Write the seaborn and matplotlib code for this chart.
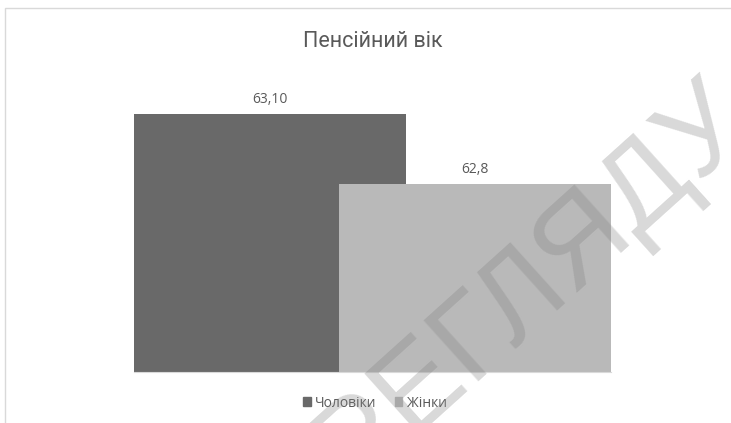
import matplotlib
matplotlib.use("Agg")
import matplotlib.pyplot as plt
import matplotlib.patches as mpatches
import seaborn as sns
import pandas as pd

# === data ===
series = ["Чоловіки", "Жінки"]
values = [63.10, 62.8]
value_labels = ["63,10", "62,8"]
colors = ["#696969", "#b9b9b9"]
title = "Пенсійний вік"
watermark = "ПЕРЕГЛЯДУ"

sns.set_theme(style="white")
plt.rcParams["font.family"] = ["Open Sans", "DejaVu Sans"]

df = pd.DataFrame({"series": series, "value": values})

W, H = 731, 423
fig = plt.figure(figsize=(W / 100, H / 100), dpi=100)
ax = fig.add_axes([134 / W, 1 - 372 / H, (611 - 134) / W, (372 - 90.5) / H])

# overlapping bars (Excel style)
sns.barplot(
    data=df, x="series", y="value", hue="series",
    palette=colors, width=1.33, saturation=1,
    errorbar=None, legend=False, linewidth=0, ax=ax
)

ax.set_xlim(-0.665, 1.665)
ax.set_ylim(62, 63.2)

for cont, lab in zip(ax.containers, value_labels):
    ax.bar_label(cont, labels=[lab], padding=5, fontsize=10, color="#595959")

ax.set_xlabel("")
ax.set_ylabel("")
ax.set_xticks([])
ax.set_yticks([])
for side in ["top", "left", "right"]:
    ax.spines[side].set_visible(False)
ax.spines["bottom"].set_color("#d9d9d9")
ax.spines["bottom"].set_linewidth(0.8)

# title
fig.text(372.5 / W, 1 - 47 / H, title, ha="center", va="baseline",
         fontsize=15.5, color="#595959",
         family=["Roboto", "DejaVu Sans"])

# legend
handles = [mpatches.Patch(color=c) for c in colors]
fig.legend(handles, series, loc="center", bbox_to_anchor=(375 / W, 1 - 403 / H),
           ncol=2, frameon=False, fontsize=10, labelcolor="#595959",
           handlelength=0.55, handleheight=0.55, handletextpad=0.3,
           columnspacing=1.3)

# chart border
fig.patches.append(mpatches.Rectangle(
    (5 / W, -0.1), 1.1, 1 - 8 / H + 0.1, transform=fig.transFigure,
    fill=False, edgecolor="#d9d9d9", linewidth=1))

# watermark
fig.text(490 / W, 1 - 362 / H, watermark, rotation=42, rotation_mode="anchor",
         ha="center", va="baseline", fontsize=86, color="#808080", alpha=0.3,
         family=["Liberation Sans", "DejaVu Sans"], zorder=10)

plt.savefig("out.png", dpi=100)
plt.close()
